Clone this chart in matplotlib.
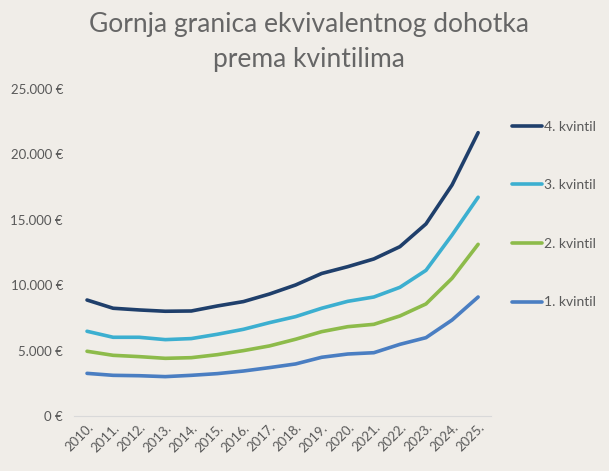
import matplotlib
matplotlib.use("Agg")
import matplotlib.pyplot as plt
from matplotlib.ticker import FuncFormatter

plt.rcParams["font.family"] = ["Lato", "DejaVu Sans"]

years = [f"{y}." for y in range(2010, 2026)]
q1 = [3260, 3110, 3080, 3010, 3110, 3240, 3440, 3700, 3980, 4490, 4740, 4840, 5480, 5990, 7340, 9100]
q2 = [4950, 4640, 4540, 4410, 4460, 4690, 5000, 5360, 5870, 6450, 6830, 7010, 7650, 8570, 10530, 13130]
q3 = [6480, 6020, 6020, 5840, 5920, 6250, 6630, 7140, 7600, 8240, 8770, 9100, 9840, 11140, 13840, 16730]
q4 = [8870, 8240, 8110, 8010, 8030, 8415, 8750, 9330, 10020, 10900, 11420, 12010, 12950, 14690, 17670, 21670]

series = [("4. kvintil", q4, "#1F3F6B"),
          ("3. kvintil", q3, "#3CAFD0"),
          ("2. kvintil", q2, "#8DBB4A"),
          ("1. kvintil", q1, "#4A7EC2")]

BG = "#F0EDE8"
TXT = "#595959"

fig = plt.figure(figsize=(6.09, 4.71), dpi=100, facecolor=BG)
ax = fig.add_axes([0.1215, 0.1168, 0.685, 0.694], facecolor=BG)

x = range(len(years))
for name, vals, col in series:
    ax.plot(x, vals, color=col, lw=2.6, label=name, solid_capstyle="round")

ax.set_xlim(-0.5, len(years) - 0.5)
ax.set_ylim(0, 25000)
ax.set_yticks(range(0, 25001, 5000))
ax.yaxis.set_major_formatter(FuncFormatter(lambda v, p: f"{int(v):,}".replace(",", ".") + " €"))
ax.set_xticks(list(x))
ax.set_xticklabels(years, rotation=45, ha="right", va="top", rotation_mode="anchor")
ax.tick_params(axis="both", length=0, colors=TXT, labelsize=9.5)
ax.tick_params(axis="y", pad=8)
ax.tick_params(axis="x", pad=4)
for s in ["top", "right", "left"]:
    ax.spines[s].set_visible(False)
ax.spines["bottom"].set_color("#D9D9D9")

fig.suptitle("Gornja granica ekvivalentnog dohotka\nprema kvintilima", x=0.508, y=0.975,
             fontsize=19, color="#666666", linespacing=1.5)

fig.legend(loc="upper left", bbox_to_anchor=(0.82, 0.77), frameon=False,
           fontsize=10, labelcolor=TXT, handlelength=2.2, handletextpad=0.1,
           labelspacing=3.35)

fig.savefig("out.png", dpi=100, facecolor=BG)
